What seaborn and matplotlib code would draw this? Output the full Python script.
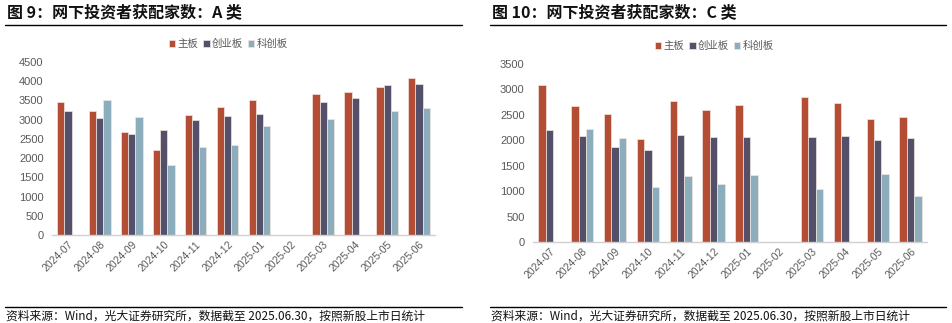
import numpy as np
import pandas as pd
import matplotlib
matplotlib.use("Agg")
import matplotlib.pyplot as plt
import seaborn as sns

months = ["2024-07", "2024-08", "2024-09", "2024-10", "2024-11", "2024-12",
          "2025-01", "2025-02", "2025-03", "2025-04", "2025-05", "2025-06"]
series = ["主板", "创业板", "科创板"]

a_main = [3450, 3220, 2680, 2215, 3120, 3320, 3510, np.nan, 3665, 3730, 3850, 4075]
a_cyb = [3225, 3050, 2625, 2735, 2990, 3095, 3155, np.nan, 3460, 3565, 3900, 3935]
a_kcb = [np.nan, 3520, 3070, 1810, 2285, 2340, 2825, np.nan, 3025, np.nan, 3235, 3300]

c_main = [3080, 2670, 2515, 2035, 2765, 2590, 2700, np.nan, 2845, 2725, 2425, 2455]
c_cyb = [2195, 2090, 1870, 1805, 2110, 2060, 2060, np.nan, 2055, 2090, 2015, 2040]
c_kcb = [np.nan, 2215, 2050, 1080, 1295, 1150, 1325, np.nan, 1045, np.nan, 1340, 905]

titles = ["图 9：网下投资者获配家数：A 类", "图 10：网下投资者获配家数：C 类"]
source = "资料来源：Wind，光大证券研究所，数据截至 2025.06.30，按照新股上市日统计"

colors = ["#C8401F", "#524C6E", "#83B0C4"]
grey = "#595959"

sns.set_theme(style="white")
plt.rcParams['font.family'] = ['Liberation Sans', 'Noto Sans CJK SC', 'DejaVu Sans']

W, H = 952, 323
fig = plt.figure(figsize=(W / 100, H / 100), dpi=100)


def long_df(m, c, k):
    rows = []
    for vals, s in zip((m, c, k), series):
        for mo, v in zip(months, vals):
            rows.append({"month": mo, "series": s, "value": v})
    return pd.DataFrame(rows)


def px_axes(x0, x1, ytop, ybot):
    return fig.add_axes([x0 / W, (H - ybot) / H, (x1 - x0) / W, (ybot - ytop) / H])


panels = [
    dict(df=long_df(a_main, a_cyb, a_kcb), ax=(52, 435, 62, 235), ymax=4500, step=500,
         px0=5, px1=462, legx=0.46),
    dict(df=long_df(c_main, c_cyb, c_kcb), ax=(533, 927, 64, 242), ymax=3500, step=500,
         px0=490, px1=946, legx=0.46),
]

for i, p in enumerate(panels):
    ax = px_axes(*p["ax"])
    sns.barplot(data=p["df"], x="month", y="value", hue="series", hue_order=series,
                palette=colors, width=0.68, ax=ax, edgecolor="#f2e6e0", linewidth=0.5,
                legend=True)
    ax.set_ylim(0, p["ymax"])
    ax.set_yticks(np.arange(0, p["ymax"] + 1, p["step"]))
    ax.set_xlim(-0.5, len(months) - 0.5)
    ax.set_xlabel("")
    ax.set_ylabel("")
    for s in ["top", "right", "left"]:
        ax.spines[s].set_visible(False)
    ax.spines["bottom"].set_color("#d0d0d0")
    ax.spines["bottom"].set_linewidth(1.0)
    ax.tick_params(axis="y", labelsize=8, colors=grey, length=0, pad=6)
    ax.tick_params(axis="x", labelsize=7.5, colors=grey, length=0, pad=3)
    for lab in ax.get_xticklabels():
        lab.set_rotation(45)
        lab.set_ha("right")
        lab.set_rotation_mode("anchor")
    ax.set_xticks(np.arange(-0.5, len(months), 1.0), minor=True)
    ax.tick_params(axis="x", which="minor", length=3, color="#d0d0d0", width=0.8)
    ax.grid(False)
    leg = ax.legend(loc="lower center", bbox_to_anchor=(p["legx"], 1.05), ncol=3,
                    frameon=False, fontsize=7.5, handlelength=0.6, handleheight=0.6,
                    handletextpad=0.2, columnspacing=0.5, borderaxespad=0)
    for t in leg.get_texts():
        t.set_color(grey)
        t.set_family(['Noto Sans CJK SC', 'DejaVu Sans'])

    # title and rules
    fig.text((p["px0"] + 2) / W, 1 - 12 / H, titles[i], fontsize=11.5, fontweight="bold",
             va="center", ha="left", family=['Noto Sans CJK SC', 'DejaVu Sans'], color="#111111")
    fig.add_artist(plt.Line2D([p["px0"] / W, p["px1"] / W], [1 - 25 / H, 1 - 25 / H],
                              color="black", linewidth=1.0))
    fig.add_artist(plt.Line2D([p["px0"] / W, p["px1"] / W], [1 - 307 / H, 1 - 307 / H],
                              color="black", linewidth=1.0))
    fig.text((p["px0"] + 1) / W, 1 - 316 / H, source, fontsize=8.5, va="center", ha="left",
             family=['Noto Sans CJK SC', 'DejaVu Sans'], color="#111111")

fig.savefig("out.png", dpi=100)
